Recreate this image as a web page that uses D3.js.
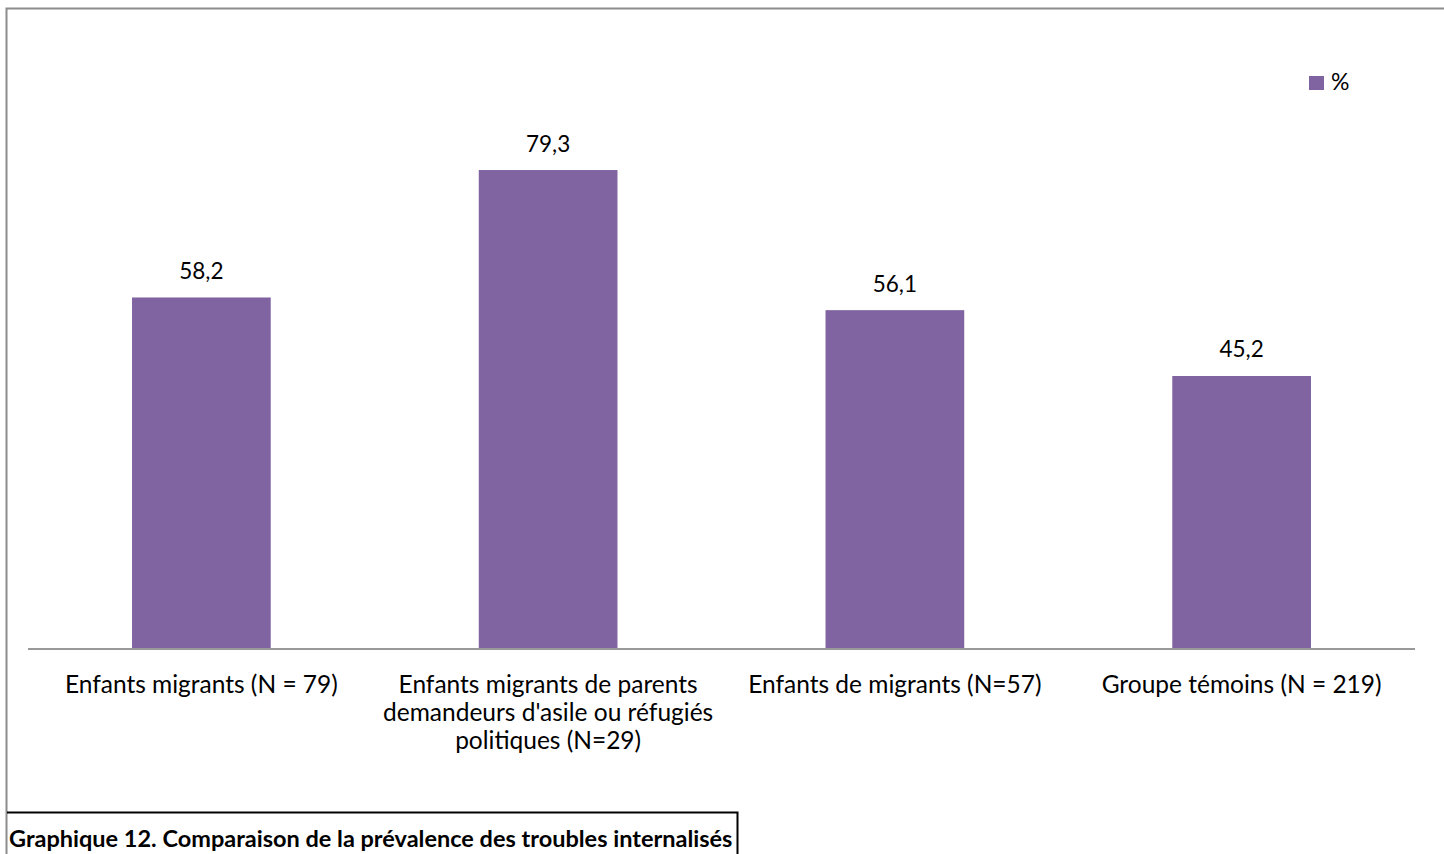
<!DOCTYPE html>
<html><head><meta charset="utf-8">
<script src="https://cdn.jsdelivr.net/npm/d3@7"></script>
<style>
body{margin:0;background:#fff;}
svg{display:block;font-family:Lato, "Open Sans", sans-serif;}
</style></head>
<body>
<svg id="chart" width="1444" height="854"></svg>
<script>
const categories = [
  ["Enfants migrants (N = 79)"],
  ["Enfants migrants de parents", "demandeurs d'asile ou réfugiés", "politiques (N=29)"],
  ["Enfants de migrants (N=57)"],
  ["Groupe témoins (N = 219)"]
];
const values = [58.2, 79.3, 56.1, 45.2];
const valueLabels = ["58,2", "79,3", "56,1", "45,2"];
const seriesName = "%";
const caption = "Graphique 12. Comparaison de la prévalence des troubles internalisés";

const svg = d3.select("#chart");
const color = "#8064A2";

// outer border
svg.append("rect").attr("x", 6.5).attr("y", 8.5).attr("width", 1460).attr("height", 900)
  .attr("fill", "none").attr("stroke", "#8c8c8c").attr("stroke-width", 2);

const x = d3.scaleBand().domain(d3.range(categories.length)).range([28, 1415]).paddingInner(0.6).paddingOuter(0.3);
const y = d3.scaleLinear().domain([0, 90]).range([649, 105.4]);

svg.selectAll("rect.bar").data(values).join("rect").attr("class", "bar")
  .attr("x", (d, i) => x(i)).attr("width", x.bandwidth())
  .attr("y", d => y(d)).attr("height", d => y(0) - y(d))
  .attr("fill", color);

// axis baseline
const axis = svg.append("g").attr("transform", `translate(0,${y(0)})`)
  .call(d3.axisBottom(x).tickSize(0).tickFormat(""));
axis.select(".domain").attr("stroke", "#999").attr("stroke-width", 2).attr("d", "M28,0H1415");

// value labels
svg.selectAll("text.val").data(values).join("text").attr("class", "val")
  .attr("x", (d, i) => x(i) + x.bandwidth() / 2).attr("y", d => y(d) - 18.5)
  .attr("text-anchor", "middle").attr("font-size", 22.5).attr("fill", "#000")
  .text((d, i) => valueLabels[i]);

// category labels
const cl = svg.selectAll("text.cat").data(categories).join("text").attr("class", "cat")
  .attr("text-anchor", "middle").attr("font-size", 24.5).attr("fill", "#000");
cl.selectAll("tspan").data((d, i) => d.map(t => ({t, i}))).join("tspan")
  .attr("x", d => x(d.i) + x.bandwidth() / 2)
  .attr("y", (d, j) => 693 + j * 28)
  .text(d => d.t);

// legend
const lg = svg.append("g").attr("transform", "translate(1309,76)");
lg.append("rect").attr("width", 15).attr("height", 14).attr("fill", color);
lg.append("text").attr("x", 22).attr("y", 14).attr("font-size", 23).attr("fill", "#000").text(seriesName);

// caption box
svg.append("path").attr("d", "M7,812.5H737.5V860").attr("fill", "none").attr("stroke", "#000").attr("stroke-width", 2);
svg.append("text").attr("x", 9).attr("y", 847).attr("font-size", 23.5).attr("font-weight", "bold").attr("fill", "#000").text(caption);
</script>
</body></html>
